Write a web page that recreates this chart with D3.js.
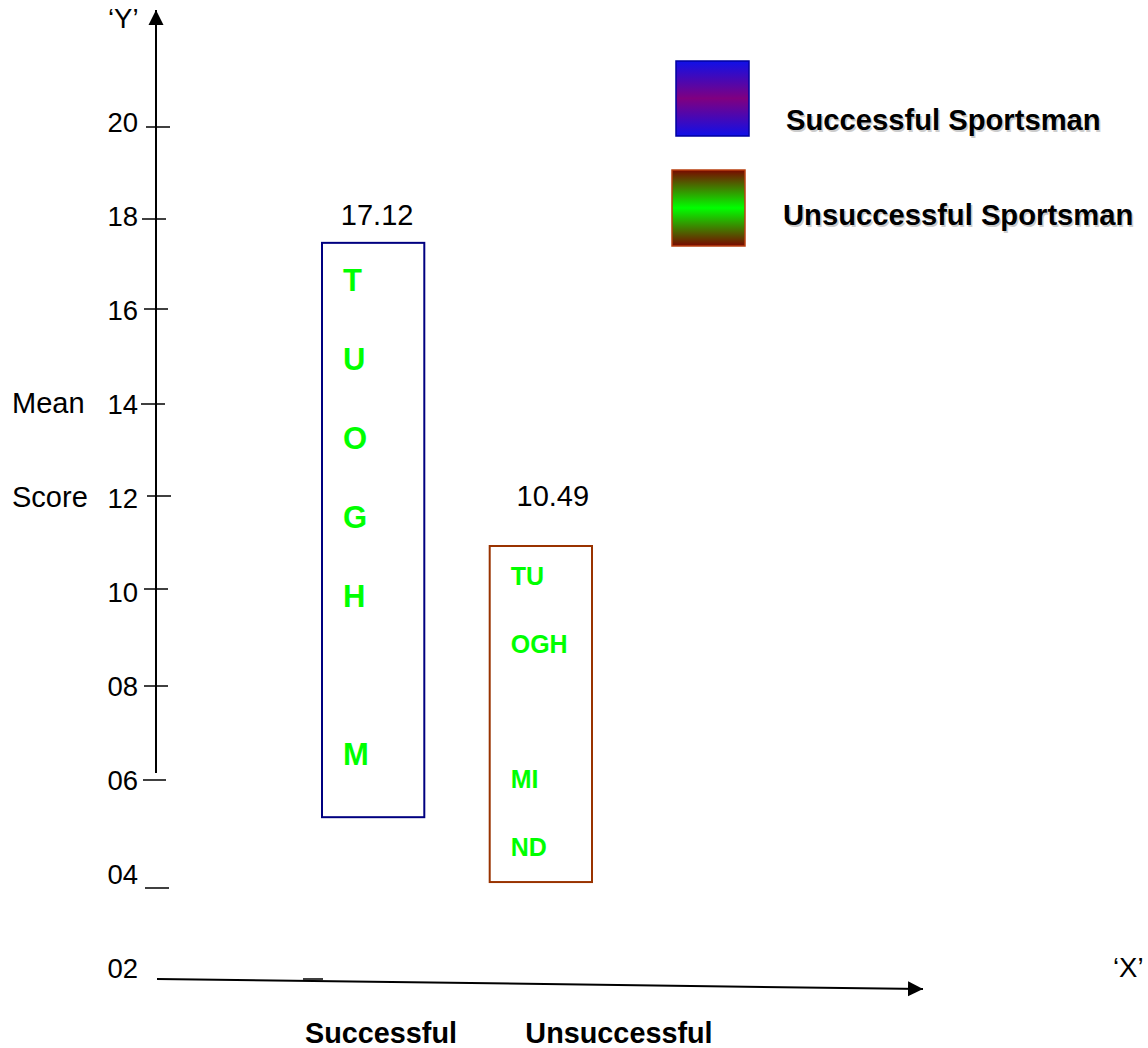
<!DOCTYPE html>
<html>
<head>
<meta charset="utf-8">
<script src="https://cdn.jsdelivr.net/npm/d3@7/dist/d3.min.js"></script>
<style>
  html, body { margin: 0; padding: 0; background: #fff; }
  svg { display: block; }
  text { font-family: "Liberation Sans", Arial, sans-serif; }
</style>
</head>
<body>
<svg id="chart" width="1148" height="1048"></svg>
<script>
// ---- data ----
const categories = ["Successful", "Unsuccessful"];
const meanValues = [17.12, 10.49];
const meanLabels = ["17.12", "10.49"];
const boxHigh = [17.45, 11.0];     // top of drawn box
const boxLow = [5.23, 3.85];       // bottom of drawn box
const labelLevel = [17.83, 11.85]; // where the value text sits
const boxLetters = [
  ["T", "U", "O", "G", "H", "", "M"],
  ["TU", "OGH", "", "MI", "ND"]
];
const tickValues = [20, 18, 16, 14, 12, 10, 8, 6, 4, 2];
const tickLabels = ["20", "18", "16", "14", "12", "10", "08", "06", "04", "02"];
const legendLabels = ["Successful Sportsman", "Unsuccessful Sportsman"];
const yAxisTitle = ["Mean", "Score"];

// ---- styles ----
const boxStroke = ["#000080", "#993300"];
const letterSize = [31, 25];
const letterStep = [79, 67.7];
const letterFirst = [48, 39];

const svg = d3.select("#chart");
const defs = svg.append("defs");

// scales
const y = d3.scaleLinear().domain([2, 20]).range([969, 123]);
const x = d3.scaleBand().domain(categories).range([322, 592]).paddingInner(0.39).paddingOuter(0);
const xLab = d3.scalePoint().domain(categories).range([381, 619]);

// arrow markers
function marker(id, w, h) {
  defs.append("marker").attr("id", id)
    .attr("viewBox", "0 0 10 10").attr("refX", 10).attr("refY", 5)
    .attr("markerWidth", w).attr("markerHeight", h)
    .attr("markerUnits", "userSpaceOnUse").attr("orient", "auto")
    .append("path").attr("d", "M0,0 L10,5 L0,10 Z").attr("fill", "#000");
}
marker("arrY", 15, 16);
marker("arrX", 15, 16);

// Y axis line
svg.append("line")
  .attr("x1", 156).attr("y1", 773).attr("x2", 156).attr("y2", 10)
  .attr("stroke", "#000").attr("stroke-width", 2).attr("marker-end", "url(#arrY)");

// X axis line (slightly sloped as in the reference)
svg.append("line")
  .attr("x1", 157).attr("y1", y(2) + 10).attr("x2", 923).attr("y2", y(2) + 20)
  .attr("stroke", "#000").attr("stroke-width", 2).attr("marker-end", "url(#arrX)");
svg.append("line")
  .attr("x1", 303).attr("x2", 323).attr("y1", y(2) + 10).attr("y2", y(2) + 10)
  .attr("stroke", "#000").attr("stroke-width", 1.5);

// ticks & labels
const tickShift = {20: 4, 18: 2, 16: -2, 14: -1, 12: -3, 10: -4, 8: -1, 6: -1};
const tickX = {20: [146, 170], 18: [142, 166], 16: [144, 168], 14: [141, 165], 12: [147, 171], 10: [144, 168], 8: [144, 168], 6: [143, 166], 4: [145, 169]};
tickValues.forEach((v, i) => {
  if (v >= 6) {
    svg.append("line")
      .attr("x1", tickX[v][0]).attr("x2", tickX[v][1])
      .attr("y1", y(v) + tickShift[v]).attr("y2", y(v) + tickShift[v])
      .attr("stroke", "#000").attr("stroke-width", 1.5);
  } else if (v === 4) {
    svg.append("line")
      .attr("x1", tickX[v][0]).attr("x2", tickX[v][1])
      .attr("y1", y(v) + 13).attr("y2", y(v) + 13)
      .attr("stroke", "#000").attr("stroke-width", 1.5);
  }
  svg.append("text")
    .attr("x", 138).attr("y", y(v) + 9)
    .attr("text-anchor", "end").attr("font-size", 27.5)
    .text(tickLabels[i]);
});

// Y title
svg.append("text").attr("x", 12).attr("y", y(14) + 8).attr("font-size", 29).text(yAxisTitle[0]);
svg.append("text").attr("x", 12).attr("y", y(12) + 8).attr("font-size", 29).text(yAxisTitle[1]);

// axis letters
svg.append("text").attr("x", 108).attr("y", 28).attr("font-size", 27.5).text("\u2018Y\u2019");
svg.append("text").attr("x", 1113).attr("y", 977).attr("font-size", 27.5).text("\u2018X\u2019");

// boxes
const boxes = svg.selectAll("g.box").data(categories).enter().append("g").attr("class", "box");
boxes.append("rect")
  .attr("x", d => x(d))
  .attr("y", (d, i) => y(boxHigh[i]))
  .attr("width", x.bandwidth())
  .attr("height", (d, i) => y(boxLow[i]) - y(boxHigh[i]))
  .attr("fill", "#fff")
  .attr("stroke", (d, i) => boxStroke[i])
  .attr("stroke-width", 2);

// value labels
boxes.append("text")
  .attr("x", (d, i) => x(d) + x.bandwidth() / 2 + (i === 0 ? 4 : 12))
  .attr("y", (d, i) => y(labelLevel[i]))
  .attr("text-anchor", "middle").attr("font-size", 29)
  .text((d, i) => meanLabels[i]);

// letters inside boxes
boxes.each(function (d, i) {
  const g = d3.select(this);
  boxLetters[i].forEach((s, k) => {
    if (!s) return;
    g.append("text")
      .attr("x", x(d) + 21)
      .attr("y", y(boxHigh[i]) + letterFirst[i] + k * letterStep[i])
      .attr("font-family", "Lato, 'Open Sans', sans-serif")
      .attr("font-weight", "bold")
      .attr("font-size", letterSize[i])
      .attr("fill", "#00ff00")
      .text(s);
  });
});

// category labels
svg.selectAll("text.cat").data(categories).enter().append("text")
  .attr("class", "cat")
  .attr("x", d => xLab(d)).attr("y", 1043)
  .attr("text-anchor", "middle").attr("font-size", 28.8).attr("font-weight", "bold")
  .text(d => d);

// legend gradients
const g1 = defs.append("linearGradient").attr("id", "gSucc").attr("x1", 0).attr("y1", 0).attr("x2", 0).attr("y2", 1);
g1.append("stop").attr("offset", "0%").attr("stop-color", "#1010e8");
g1.append("stop").attr("offset", "50%").attr("stop-color", "#800080");
g1.append("stop").attr("offset", "100%").attr("stop-color", "#1010e8");
const g2 = defs.append("linearGradient").attr("id", "gUnsucc").attr("x1", 0).attr("y1", 0).attr("x2", 0).attr("y2", 1);
g2.append("stop").attr("offset", "0%").attr("stop-color", "#7a0800");
g2.append("stop").attr("offset", "50%").attr("stop-color", "#00ff00");
g2.append("stop").attr("offset", "100%").attr("stop-color", "#7a0800");

const legendBoxes = [
  {x: 676, y: 61, w: 73, h: 75, fill: "url(#gSucc)", stroke: "#0000a0", tx: 786, ty: 130},
  {x: 672, y: 170, w: 73, h: 76, fill: "url(#gUnsucc)", stroke: "#b84010", tx: 783, ty: 225}
];
legendLabels.forEach((lab, i) => {
  const b = legendBoxes[i];
  svg.append("rect").attr("x", b.x).attr("y", b.y).attr("width", b.w).attr("height", b.h)
    .attr("fill", b.fill).attr("stroke", b.stroke).attr("stroke-width", 1.5);
  svg.append("text").attr("x", b.tx + 1.5).attr("y", b.ty + 1.5)
    .attr("font-size", 29.2).attr("font-weight", "bold").attr("fill", "#cccccc").text(lab);
  svg.append("text").attr("x", b.tx).attr("y", b.ty)
    .attr("font-size", 29.2).attr("font-weight", "bold").attr("fill", "#000").text(lab);
});
</script>
</body>
</html>
